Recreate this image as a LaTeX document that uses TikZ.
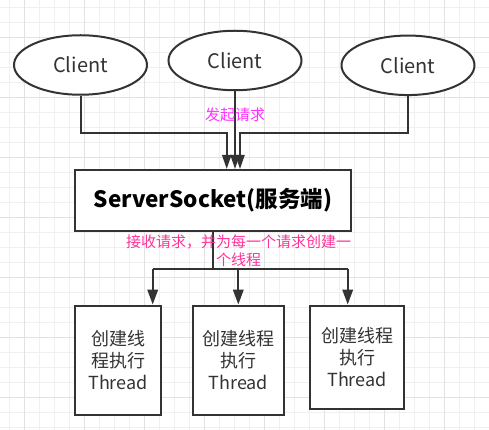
\documentclass[tikz,border=0pt]{standalone}
\usepackage{fontspec}
\setmainfont{Noto Sans CJK SC}
\usetikzlibrary{arrows.meta,shapes.geometric}
\definecolor{ink}{HTML}{333333}
\definecolor{gridminor}{HTML}{F0F0F0}
\definecolor{gridmajor}{HTML}{E2E2E2}
\definecolor{lblA}{HTML}{FF33FF}
\definecolor{lblB}{HTML}{FF3399}
\tikzset{
  client/.style={draw=ink, line width=2pt, ellipse, fill=white, inner sep=0pt,
    minimum width=133pt, minimum height=59.5pt, text=ink, font=\fontsize{20}{24}\selectfont},
  serverbox/.style={draw=ink, line width=2pt, rectangle, fill=white, inner sep=0pt,
    minimum width=276.5pt, minimum height=61pt, text=black, font=\fontsize{22.5}{26}\selectfont\bfseries},
  threadbox/.style={draw=ink, line width=2pt, rectangle, fill=white, inner sep=0pt,
    align=center, text=ink, font=\fontsize{18}{21.8}\selectfont},
  conn/.style={draw=ink, line width=2pt},
  arrA/.style={conn, -{Triangle[width=9pt,length=14pt]}},
  arrB/.style={conn, -{Triangle[width=10.5pt,length=15pt]}},
}
\begin{document}
\begin{tikzpicture}[x=1pt,y=-1pt]
\useasboundingbox (0,0) rectangle (489,430);
\fill[white] (0,0) rectangle (489,430);
% grid
\foreach \k in {0,...,32} {
  \pgfmathsetmacro\gx{9.3+15*\k}
  \draw[gridminor, line width=1pt] (\gx,0) -- (\gx,430);
}
\foreach \k in {0,...,28} {
  \pgfmathsetmacro\gy{7.3+15*\k}
  \draw[gridminor, line width=1pt] (0,\gy) -- (489,\gy);
}
\foreach \k in {0,...,7} {
  \pgfmathsetmacro\gx{24.3+60*\k}
  \draw[gridmajor, line width=1pt] (\gx,0) -- (\gx,430);
}
\foreach \k in {0,...,6} {
  \pgfmathsetmacro\gy{37.3+60*\k}
  \draw[gridmajor, line width=1pt] (0,\gy) -- (489,\gy);
}
% nodes
\node[client] (c1) at (80.5,65) {Client};
\node[client] (c2) at (235,60.5) {Client};
\node[client] (c3) at (408,65.3) {Client};
\node[serverbox] (s) at (213,200.5) {ServerSocket(服务端)};
\node[threadbox, minimum width=86.5pt, minimum height=109.5pt] (t1) at (118,360.3) {创建线\\程执行\\Thread};
\node[threadbox, minimum width=91.5pt, minimum height=109.5pt] (t2) at (238.3,360.3) {创建线程\\执行\\Thread};
\node[threadbox, minimum width=94pt, minimum height=103.5pt] (t3) at (357,357.3) {创建线程\\执行\\Thread};
% top connectors
\coordinate (j1) at (226.7,133.3);
\coordinate (j3) at (240,133.3);
\draw[arrA] (c1.south) |- (j1) -- (j1 |- s.north);
\draw[arrA] (c2.south) -- (c2.south |- s.north);
\draw[arrA] (c3.south) |- (j3) -- (j3 |- s.north);
% bottom connectors
\coordinate (hub) at (213,269);
\coordinate (b1) at (152.7,269);
\coordinate (b2) at (238.3,269);
\coordinate (b3) at (347.7,269);
\draw[conn] (s.south) -- (hub);
\draw[conn] (b1) -- (b3);
\draw[arrB] (b1) -- (b1 |- t1.north);
\draw[arrB] (b2) -- (b2 |- t2.north);
\draw[arrB] (b3) -- (b3 |- t3.north);
% labels
\node[text=lblA, font=\fontsize{15}{18}\selectfont, inner sep=0pt] (lab1) at (235,115) {发起请求};
\node[text=lblB, font=\fontsize{15}{18}\selectfont, inner sep=0pt, align=center] (lab2) at (238.6,250.3) {接收请求，并为每一个请求创建一\\个线程};
\end{tikzpicture}
\end{document}
